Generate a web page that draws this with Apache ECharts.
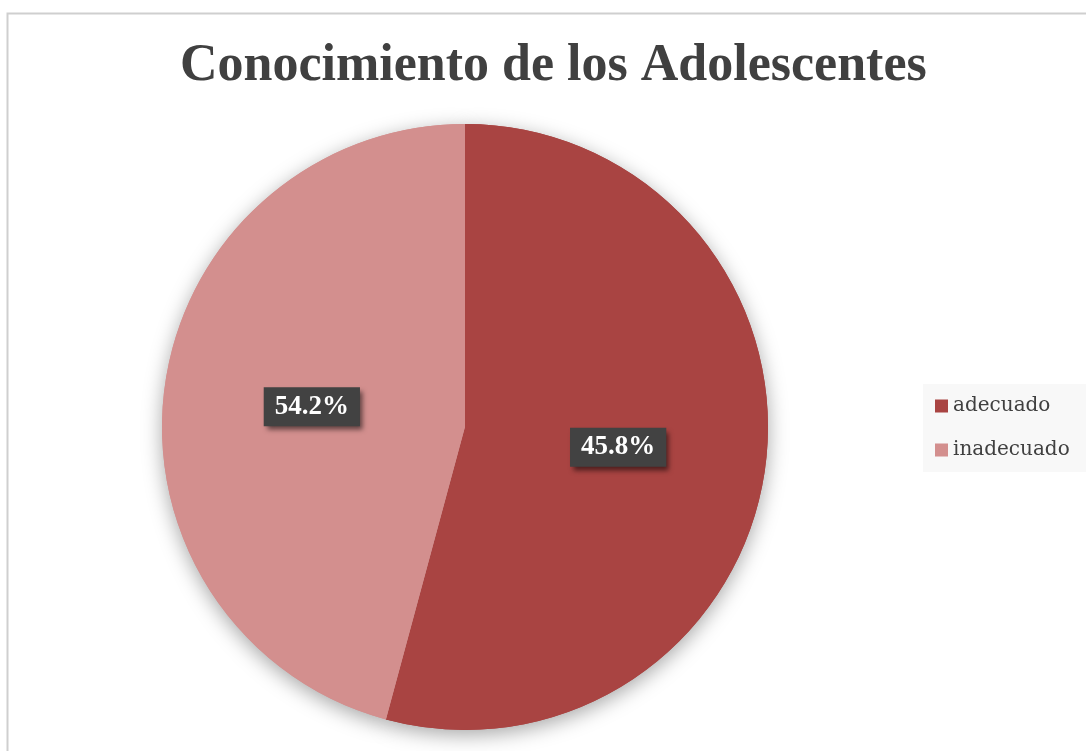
<!DOCTYPE html>
<html>
<head>
<meta charset="utf-8">
<script src="https://cdn.jsdelivr.net/npm/echarts@6/dist/echarts.min.js"></script>
<style>
  html, body { margin: 0; padding: 0; background: #fff; }
  #chart { width: 1086px; height: 751px; }
</style>
</head>
<body>
<div id="chart"></div>
<script>
const categories = ['adecuado', 'inadecuado']
// slice sizes as drawn in the picture
const sliceValues = [54.2, 45.8]
// data label texts as printed on the slices
const labelTexts = ['45.8%', '54.2%']
const colors = ['#A94442', '#D38F8E']

const chart = echarts.init(document.getElementById('chart'))
const serif = '"Liberation Serif", "DejaVu Serif", serif'
const pieData = categories.map((c, i) => ({ name: c, value: sliceValues[i] }))

chart.setOption({
  backgroundColor: '#fff',
  title: {
    text: 'Conocimiento de los Adolescentes',
    left: 175,
    top: 36,
    textStyle: {
      fontFamily: serif,
      fontSize: 52,
      fontWeight: 'bold',
      color: '#404040'
    }
  },
  legend: {
    orient: 'vertical',
    left: 923,
    top: 384,
    icon: 'rect',
    itemWidth: 13,
    itemHeight: 13,
    itemGap: 22,
    padding: [11, 40, 11, 12],
    backgroundColor: '#f8f8f8',
    data: categories,
    textStyle: {
      fontFamily: '"DejaVu Serif", serif',
      fontSize: 20,
      lineHeight: 22,
      color: '#404040'
    }
  },
  graphic: [{
    type: 'rect',
    shape: { x: 7.5, y: 13.5, width: 1200, height: 900 },
    style: { fill: 'none', stroke: '#cfcfcf', lineWidth: 2 },
    silent: true
  }],
  series: [{
    // shadow layer underneath the pie
    type: 'pie',
    center: [465, 427],
    radius: 303,
    startAngle: 90,
    silent: true,
    color: colors,
    itemStyle: {
      shadowBlur: 20,
      shadowColor: 'rgba(0,0,0,0.35)',
      shadowOffsetY: 5
    },
    label: { show: false },
    labelLine: { show: false },
    data: pieData
  }, {
    type: 'pie',
    center: [465, 427],
    radius: 303,
    startAngle: 90,
    clockwise: true,
    color: colors,
    emphasis: { disabled: true },
    label: {
      position: 'inside',
      formatter: (p) => labelTexts[p.dataIndex],
      fontFamily: serif,
      fontSize: 27,
      fontWeight: 'bold',
      color: '#fff',
      backgroundColor: '#424242',
      padding: [7, 11, 5, 11],
      shadowBlur: 5,
      shadowOffsetX: 3,
      shadowOffsetY: 4,
      shadowColor: 'rgba(0,0,0,0.55)'
    },
    labelLine: { show: false },
    data: pieData
  }]
})
</script>
</body>
</html>
